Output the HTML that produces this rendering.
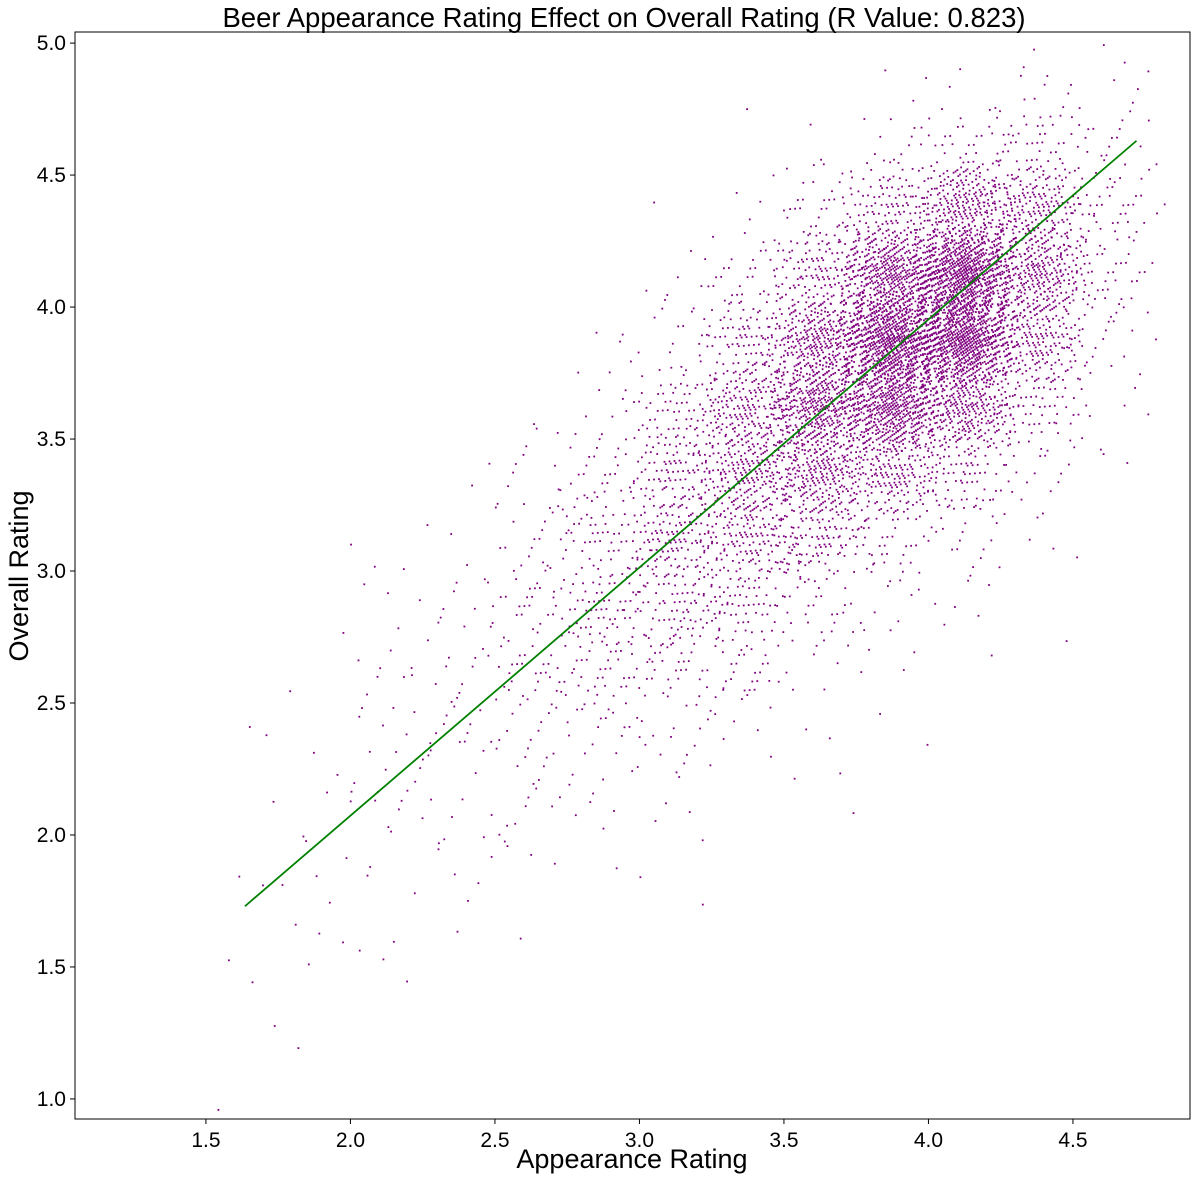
<!DOCTYPE html>
<html><head><meta charset="utf-8"><style>
body{margin:0;background:#fff;}
svg text{font-family:"Liberation Sans",sans-serif;fill:#000;}
</style></head><body>
<svg id="chart" width="1200" height="1180" viewBox="0 0 1200 1180" xmlns="http://www.w3.org/2000/svg">
<text x="624" y="27" font-size="27.5" text-anchor="middle">Beer Appearance Rating Effect on Overall Rating (R Value: 0.823)</text>
<g id="points"></g>
<g id="axes"></g>
<text x="632" y="1168" font-size="27" text-anchor="middle">Appearance Rating</text>
<text x="28" y="576" font-size="27" text-anchor="middle" transform="rotate(-90 28 576)">Overall Rating</text>
</svg>
<script>
// Data (density grid)
const xBinStarts = [1.5,1.75,2.0,2.25,2.5,2.75,3.0,3.25,3.5,3.75,4.0,4.25,4.5];
const yBinStarts = [1.0,1.25,1.5,1.75,2.0,2.25,2.5,2.75,3.0,3.25,3.5,3.75,4.0,4.25,4.5,4.75];
const binCounts = [
 [1,1,1,2,1,1,0,0,0,0,0,0,0,0,0,0],
 [1,2,3,4,4,3,1,0,0,0,0,0,0,0,0,0],
 [0,1,3,6,8,9,8,4,1,0,0,0,0,0,0,0],
 [0,0,1,5,10,14,14,10,4,1,0,0,0,0,0,0],
 [0,0,1,4,10,20,30,30,20,8,2,0,0,0,0,0],
 [0,0,0,2,6,20,45,60,55,30,10,2,0,0,0,0],
 [0,0,0,1,4,12,40,90,130,110,60,20,4,1,0,0],
 [0,0,0,0,2,6,25,70,160,220,190,100,30,6,1,0],
 [0,0,0,0,1,3,8,30,110,280,430,340,140,30,3,0],
 [0,0,0,0,0,1,3,10,45,190,580,820,480,120,12,1],
 [0,0,0,0,0,0,1,4,18,80,330,820,820,280,35,3],
 [0,0,0,0,0,0,0,1,4,15,70,200,300,200,50,8],
 [0,0,0,0,0,0,0,0,0,2,6,20,40,40,20,5]
];
const binSize = 0.25;
const fitLineX = [1.635, 4.72];
const fitLineY = [1.73, 4.63];
const xTicks = [1.5,2.0,2.5,3.0,3.5,4.0,4.5];
const xTickLabels = ["1.5","2.0","2.5","3.0","3.5","4.0","4.5"];
const yTicks = [1.0,1.5,2.0,2.5,3.0,3.5,4.0,4.5,5.0];
const yTickLabels = ["1.0","1.5","2.0","2.5","3.0","3.5","4.0","4.5","5.0"];

const L=75,R=1190,T=32,B=1119;
const xMin=1.047,xMax=4.905,yMin=0.924,yMax=5.042;
const sx=v=>L+(v-xMin)/(xMax-xMin)*(R-L);
const sy=v=>B-(v-yMin)/(yMax-yMin)*(B-T);
const NS="http://www.w3.org/2000/svg";
const pts=document.getElementById('points');
// quasi-random (R4 sequence) for smooth tent-kernel placement around bin centers
const a1=0.8566748838545029,a2=0.7338918566271260,a3=0.6287067210378086,a4=0.5385972572236101;
const spread=0.8;
let k=0;
for(let i=0;i<xBinStarts.length;i++){
  for(let j=0;j<yBinStarts.length;j++){
    const n=binCounts[i][j];
    for(let p=0;p<n;p++){
      k++;
      const u1=(0.5+k*a1)%1,u2=(0.5+k*a2)%1,u3=(0.5+k*a3)%1,u4=(0.5+k*a4)%1;
      const vx=xBinStarts[i]+binSize/2+(u1+u2-1)*binSize*spread;
      const vy=yBinStarts[j]+binSize/2+(u3+u4-1)*binSize*spread;
      const r=document.createElementNS(NS,'rect');
      
      
      r.setAttribute('x',(sx(vx)-0.9).toFixed(1));
      r.setAttribute('y',(sy(vy)-0.9).toFixed(1));
      r.setAttribute('width','1.8');r.setAttribute('height','1.8');
      r.setAttribute('fill','#800080');
      pts.appendChild(r);
    }
  }
}
const ax=document.getElementById('axes');
const fl=document.createElementNS(NS,'line');


fl.setAttribute('x1',sx(fitLineX[0]));fl.setAttribute('y1',sy(fitLineY[0]));
fl.setAttribute('x2',sx(fitLineX[1]));fl.setAttribute('y2',sy(fitLineY[1]));
fl.setAttribute('stroke','#008000');fl.setAttribute('stroke-width','1.8');
ax.appendChild(fl);
const frame=document.createElementNS(NS,'rect');


frame.setAttribute('x',L);frame.setAttribute('y',T);frame.setAttribute('width',R-L);frame.setAttribute('height',B-T);
frame.setAttribute('fill','none');frame.setAttribute('stroke','#000');frame.setAttribute('stroke-width','1');
ax.appendChild(frame);
xTicks.forEach((v,i)=>{
  const x=sx(v);
  const t=document.createElementNS(NS,'line');
  
  
  t.setAttribute('x1',x);t.setAttribute('x2',x);t.setAttribute('y1',B);t.setAttribute('y2',B+5);t.setAttribute('stroke','#000');
  ax.appendChild(t);
  const tx=document.createElementNS(NS,'text');
  
  
  tx.setAttribute('x',x);tx.setAttribute('y',B+28);tx.setAttribute('font-size','21');tx.setAttribute('text-anchor','middle');
  tx.textContent=xTickLabels[i];ax.appendChild(tx);
});
yTicks.forEach((v,i)=>{
  const y=sy(v);
  const t=document.createElementNS(NS,'line');
  
  
  t.setAttribute('x1',L-5);t.setAttribute('x2',L);t.setAttribute('y1',y);t.setAttribute('y2',y);t.setAttribute('stroke','#000');
  ax.appendChild(t);
  const tx=document.createElementNS(NS,'text');
  
  
  tx.setAttribute('x',L-9);tx.setAttribute('y',y+7);tx.setAttribute('font-size','21');tx.setAttribute('text-anchor','end');
  tx.textContent=yTickLabels[i];ax.appendChild(tx);
});
</script>
</body></html>
